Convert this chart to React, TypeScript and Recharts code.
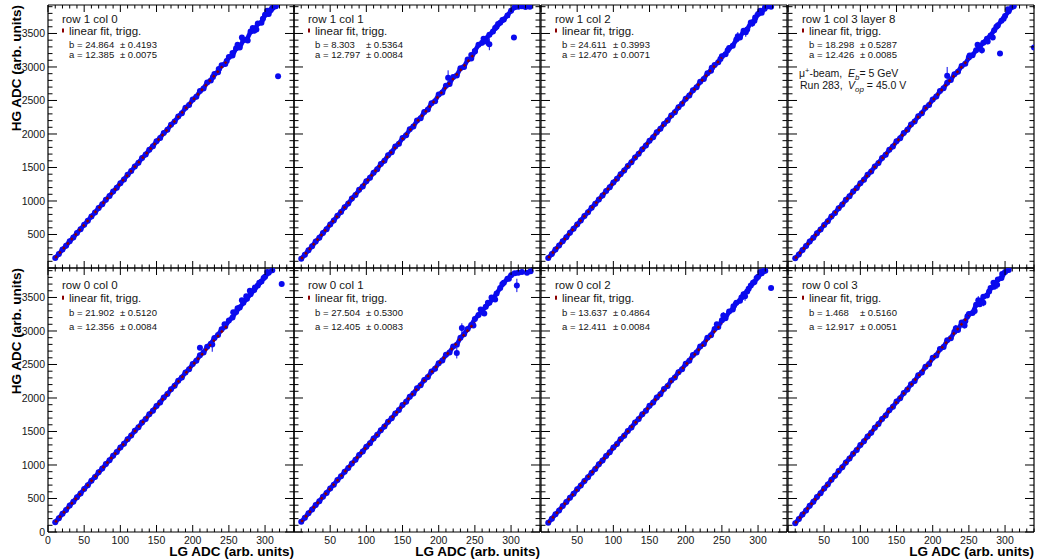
import { ComposedChart, Scatter, Line, XAxis, YAxis, ErrorBar } from 'recharts'

// LG ADC sample points (x) shared by the main traces
const LG = [
  10, 15, 20, 25, 30, 35, 40, 45, 50, 55, 60, 65, 70, 75, 80, 85, 90, 95, 100, 105,
  110, 115, 120, 125, 130, 135, 140, 145, 150, 155, 160, 165, 170, 175, 180, 185, 190, 195, 200, 205,
  210, 215, 220, 225, 230, 235, 240, 245, 250, 255, 260, 265, 270, 275, 280, 285, 290, 295, 300, 305,
  310, 315,
]

// HG ADC values per channel
const HG_R1C0 = [150, 208, 275, 333, 398, 456, 522, 580, 646, 704, 770, 828, 895, 951, 1019, 1075, 1142, 1198, 1266, 1322, 1390, 1446, 1515, 1570, 1640, 1694, 1764, 1818, 1890, 1941, 2015, 2062, 2138, 2186, 2262, 2310, 2390, 2432, 2515, 2556, 2640, 2680, 2770, 2800, 2895, 2922, 3025, 3045, 3150, 3170, 3280, 3290, 3400, 3410, 3530, 3540, 3650, 3660, 3780, 3790, 3880, 3905]
const HG_R1C1 = [138, 197, 266, 325, 395, 452, 523, 580, 651, 708, 780, 836, 908, 963, 1036, 1091, 1166, 1218, 1294, 1346, 1423, 1474, 1552, 1600, 1682, 1728, 1812, 1856, 1940, 1983, 2070, 2110, 2200, 2236, 2330, 2364, 2460, 2490, 2590, 2618, 2720, 2745, 2850, 2872, 2980, 3000, 3110, 3125, 3240, 3330, 3360, 3420, 3480, 3530, 3600, 3660, 3710, 3770, 3840, 3890]
const HG_R1C2 = [150, 210, 276, 334, 401, 459, 525, 584, 650, 708, 775, 833, 900, 958, 1024, 1083, 1150, 1206, 1275, 1331, 1399, 1456, 1524, 1580, 1650, 1704, 1774, 1829, 1900, 1952, 2025, 2077, 2150, 2202, 2276, 2326, 2400, 2450, 2526, 2575, 2652, 2698, 2778, 2822, 2905, 2945, 3030, 3070, 3160, 3190, 3285, 3315, 3410, 3440, 3540, 3560, 3665, 3690, 3790, 3810, 3895]
const HG_R1C3 = [144, 203, 269, 327, 394, 450, 518, 574, 643, 699, 768, 822, 893, 946, 1017, 1070, 1142, 1194, 1266, 1318, 1391, 1442, 1515, 1566, 1640, 1690, 1765, 1814, 1890, 1938, 2015, 2062, 2140, 2186, 2265, 2310, 2390, 2434, 2515, 2558, 2640, 2682, 2765, 2806, 2890, 2930, 3015, 3050, 3140, 3175, 3250, 3300, 3360, 3420, 3470, 3550, 3620, 3690, 3760, 3830, 3900]
const HG_R0C0 = [147, 205, 271, 329, 395, 452, 519, 576, 643, 699, 766, 822, 890, 946, 1014, 1069, 1138, 1193, 1262, 1316, 1386, 1440, 1510, 1563, 1634, 1686, 1758, 1810, 1882, 1934, 2006, 2058, 2130, 2182, 2256, 2306, 2382, 2430, 2508, 2556, 2636, 2680, 2765, 2808, 2895, 2940, 3025, 3068, 3155, 3200, 3285, 3350, 3420, 3480, 3550, 3610, 3680, 3740, 3810, 3870, 3905]
const HG_R0C1 = [153, 211, 279, 336, 403, 459, 527, 583, 651, 707, 775, 831, 900, 954, 1024, 1078, 1148, 1202, 1272, 1326, 1396, 1450, 1520, 1574, 1645, 1697, 1770, 1820, 1895, 1943, 2020, 2066, 2145, 2190, 2270, 2312, 2395, 2436, 2520, 2560, 2645, 2680, 2770, 2795, 2900, 2950, 3030, 3090, 3180, 3240, 3300, 3360, 3420, 3480, 3560, 3640, 3720, 3780, 3830, 3860, 3870]
const HG_R0C2 = [139, 198, 264, 322, 389, 446, 513, 570, 637, 694, 761, 818, 886, 941, 1010, 1066, 1135, 1190, 1260, 1314, 1384, 1438, 1509, 1561, 1633, 1685, 1758, 1808, 1883, 1932, 2008, 2056, 2134, 2180, 2260, 2305, 2386, 2430, 2512, 2555, 2640, 2680, 2770, 2805, 2900, 2935, 3030, 3060, 3160, 3190, 3290, 3320, 3420, 3450, 3550, 3590, 3680, 3730, 3810, 3860, 3900]
const HG_R0C3 = [132, 193, 262, 322, 391, 452, 521, 580, 650, 709, 780, 838, 909, 967, 1038, 1096, 1168, 1225, 1297, 1354, 1427, 1482, 1557, 1611, 1686, 1740, 1816, 1868, 1946, 1997, 2076, 2125, 2206, 2252, 2338, 2380, 2468, 2508, 2600, 2635, 2730, 2762, 2860, 2890, 2990, 3015, 3125, 3145, 3255, 3270, 3390, 3400, 3510, 3530, 3640, 3660, 3770, 3790, 3880, 3910]

// scattered high-gain points: [LG, HG, error]
const EXTRA_R1C0 = [[228, 2850, 0], [236, 2970, 0], [247, 3090, 0], [255, 3210, 0], [262, 3330, 0], [268, 3440, 0], [276, 3396, 0], [283, 3580, 0], [288, 3560, 0], [297, 3720, 0], [303, 3840, 0], [308, 3850, 0], [312, 3900, 0], [318, 2860, 0]]
const EXTRA_R1C1 = [[213, 2840, 110], [245, 3180, 0], [250, 3230, 0], [262, 3420, 0], [266, 3380, 60], [270, 3340, 90], [278, 3580, 0], [282, 3640, 0], [288, 3700, 0], [304, 3440, 0], [310, 3900, 0], [315, 3905, 0], [320, 3895, 0], [326, 3900, 0]]
const EXTRA_R1C2 = [[236, 2990, 0], [248, 3120, 0], [258, 3250, 40], [272, 3460, 60], [283, 3520, 70], [292, 3650, 50], [296, 3740, 60], [303, 3840, 0], [309, 3870, 0], [314, 3905, 0], [318, 3900, 0]]
const EXTRA_R1C3 = [[220, 2870, 130], [251, 3170, 0], [262, 3330, 0], [268, 3250, 50], [276, 3380, 40], [283, 3440, 0], [288, 3600, 60], [293, 3200, 0], [298, 3720, 0], [304, 3860, 0], [312, 3905, 0], [340, 3290, 0]]
const EXTRA_R0C0 = [[210, 2750, 0], [227, 2800, 110], [244, 3100, 0], [256, 3280, 0], [262, 3340, 0], [268, 3460, 0], [274, 3520, 0], [279, 3600, 0], [286, 3650, 0], [292, 3720, 0], [298, 3790, 0], [303, 3880, 0], [323, 3700, 0]]
const EXTRA_R0C1 = [[225, 2670, 80], [232, 3045, 70], [248, 3080, 0], [258, 3320, 0], [263, 3260, 0], [268, 3420, 0], [273, 3500, 0], [278, 3470, 0], [288, 3700, 60], [297, 3780, 0], [308, 3680, 100], [315, 3880, 0], [322, 3870, 0], [327, 3890, 0]]
const EXTRA_R0C2 = [[243, 3100, 0], [252, 3230, 50], [266, 3370, 60], [277, 3500, 50], [282, 3520, 70], [287, 3630, 0], [293, 3720, 0], [298, 3790, 0], [303, 3880, 0], [308, 3900, 0], [318, 3640, 0]]
const EXTRA_R0C3 = [[232, 3040, 50], [244, 3080, 40], [248, 3220, 0], [258, 3300, 50], [263, 3460, 60], [270, 3420, 50], [278, 3590, 0], [284, 3720, 0], [289, 3690, 60], [296, 3850, 0]]

// linear fit end points [LG, HG]
const FIT_R1C0 = [[10, 149], [250, 3121]]
const FIT_R1C1 = [[10, 136], [250, 3208]]
const FIT_R1C2 = [[10, 149], [250, 3142]]
const FIT_R1C3 = [[10, 143], [250, 3125]]
const FIT_R0C0 = [[10, 145], [250, 3111]]
const FIT_R0C1 = [[10, 152], [250, 3129]]
const FIT_R0C2 = [[10, 138], [250, 3116]]
const FIT_R0C3 = [[10, 131], [250, 3231]]

const TITLES = ['row 1 col 0', 'row 1 col 1', 'row 1 col 2', 'row 1 col 3 layer 8', 'row 0 col 0', 'row 0 col 1', 'row 0 col 2', 'row 0 col 3']
const B_VALS = ['24.864', '8.303', '24.611', '18.298', '21.902', '27.504', '13.637', '1.468']
const B_ERRS = ['0.4193', '0.5364', '0.3993', '0.5287', '0.5120', '0.5300', '0.4864', '0.5160']
const A_VALS = ['12.385', '12.797', '12.470', '12.426', '12.356', '12.405', '12.411', '12.917']
const A_ERRS = ['0.0075', '0.0084', '0.0071', '0.0085', '0.0084', '0.0083', '0.0084', '0.0051']

const HG_ALL = [HG_R1C0, HG_R1C1, HG_R1C2, HG_R1C3, HG_R0C0, HG_R0C1, HG_R0C2, HG_R0C3]
const EXTRA_ALL = [EXTRA_R1C0, EXTRA_R1C1, EXTRA_R1C2, EXTRA_R1C3, EXTRA_R0C0, EXTRA_R0C1, EXTRA_R0C2, EXTRA_R0C3]
const FIT_ALL = [FIT_R1C0, FIT_R1C1, FIT_R1C2, FIT_R1C3, FIT_R0C0, FIT_R0C1, FIT_R0C2, FIT_R0C3]

const X_TICKS = [0, 10, 20, 30, 40, 50, 60, 70, 80, 90, 100, 110, 120, 130, 140, 150, 160, 170, 180, 190, 200, 210, 220, 230, 240, 250, 260, 270, 280, 290, 300, 310, 320, 330, 340]
const Y_TICKS = [0, 100, 200, 300, 400, 500, 600, 700, 800, 900, 1000, 1100, 1200, 1300, 1400, 1500, 1600, 1700, 1800, 1900, 2000, 2100, 2200, 2300, 2400, 2500, 2600, 2700, 2800, 2900, 3000, 3100, 3200, 3300, 3400, 3500, 3600, 3700, 3800, 3900]

const FONT = "'Liberation Sans', Arial, Helvetica, sans-serif"
const BLUE = '#0a0aee'
const FIT_RED = '#8b0000'
const INK = '#151515'

const COL_X = [48, 294, 541, 788]
const ROW_Y = [5, 268]
const W = 246
const ROW_H = [263, 264]
const Y_MAX = [3925, 3940]
const ML = 50, MR = 6, MT = 6, MB = 30

function tickRenderer(side: string, labels: boolean, skipZero: boolean) {
  return (p: any) => {
    const v = p.payload.value
    const { x, y } = p
    if (side === 'bottom' || side === 'top') {
      const major = v % 50 === 0
      const len = major ? 7 : 3.5
      const dir = side === 'bottom' ? -1 : 1
      return (
        <g>
          <line x1={x} x2={x} y1={y} y2={y + dir * len} stroke="#000" strokeWidth={1} />
          {labels && major && v <= 300 && !(skipZero && v === 0) && (
            <text x={x} y={y + 11.5} textAnchor="middle" fontSize={10.5} fontFamily={FONT} fill={INK}>{v}</text>
          )}
        </g>
      )
    }
    const major = v % 500 === 0
    const len = major ? 9 : 4.5
    const dir = side === 'left' ? 1 : -1
    return (
      <g>
        <line x1={x} x2={x + dir * len} y1={y} y2={y} stroke="#000" strokeWidth={1} />
        {labels && major && !(skipZero && v === 0) && (
          <text x={x - 3} y={y + 3.8} textAnchor="end" fontSize={10.5} fontFamily={FONT} fill={INK}>{v}</text>
        )}
      </g>
    )
  }
}

function Panel({ idx }: { idx: number }) {
  const row = idx < 4 ? 0 : 1
  const col = idx % 4
  const H = ROW_H[row]
  const main = LG.map((x, i) => ({ x, y: HG_ALL[idx][i], e: 0 })).filter((d) => d.y !== undefined)
  const extra = EXTRA_ALL[idx].map(([x, y, e]) => ({ x, y, e }))
  const dot = (p: any) => <circle cx={p.cx} cy={p.cy} r={3} fill={BLUE} />
  const axisLine = { stroke: '#000', strokeWidth: 1.2 }
  // axes take 1px each, so margins are 1px smaller to keep the frame in place
  return (
    <div style={{ position: 'absolute', left: COL_X[col] - ML, top: ROW_Y[row] - MT }}>
      <ComposedChart width={W + ML + MR} height={H + MT + MB}
        margin={{ top: MT - 1, right: MR - 1, bottom: MB - 1, left: ML - 1 }}>
        <XAxis xAxisId="b" dataKey="x" type="number" domain={[0, 340]} allowDataOverflow ticks={X_TICKS} interval={0}
          height={1} tickSize={0} tickMargin={0} axisLine={axisLine} tickLine={false}
          tick={tickRenderer('bottom', row === 1, col !== 0)} />
        <XAxis xAxisId="t" orientation="top" dataKey="x" type="number" domain={[0, 340]} allowDataOverflow ticks={X_TICKS} interval={0}
          height={1} tickSize={0} tickMargin={0} axisLine={axisLine} tickLine={false}
          tick={tickRenderer('top', false, false)} />
        <YAxis yAxisId="l" dataKey="y" type="number" domain={[0, Y_MAX[row]]} allowDataOverflow ticks={Y_TICKS} interval={0}
          width={1} tickSize={0} tickMargin={0} axisLine={axisLine} tickLine={false}
          tick={tickRenderer('left', col === 0, row === 0)} />
        <YAxis yAxisId="r" orientation="right" dataKey="y" type="number" domain={[0, Y_MAX[row]]} allowDataOverflow ticks={Y_TICKS} interval={0}
          width={1} tickSize={0} tickMargin={0} axisLine={axisLine} tickLine={false}
          tick={tickRenderer('right', false, false)} />
        <Line xAxisId="b" yAxisId="l" data={main} dataKey="y" type="linear" dot={false} stroke={BLUE}
          strokeWidth={4.5} isAnimationActive={false} />
        <Scatter xAxisId="b" yAxisId="l" data={main} fill={BLUE} shape={dot} isAnimationActive={false} />
        <Scatter xAxisId="b" yAxisId="l" data={extra} fill={BLUE} shape={dot} isAnimationActive={false}>
          <ErrorBar dataKey="e" direction="y" width={0} stroke={BLUE} strokeWidth={1} />
        </Scatter>
      </ComposedChart>
    </div>
  )
}

// fit line in its own layer so it sits on top of the markers
function FitLayer({ idx }: { idx: number }) {
  const row = idx < 4 ? 0 : 1
  const col = idx % 4
  const H = ROW_H[row]
  const fit = FIT_ALL[idx].map(([x, y]) => ({ x, y }))
  return (
    <div style={{ position: 'absolute', left: COL_X[col] - ML, top: ROW_Y[row] - MT }}>
      <ComposedChart width={W + ML + MR} height={H + MT + MB} data={fit}
        margin={{ top: MT, right: MR, bottom: MB, left: ML }}>
        <XAxis dataKey="x" type="number" domain={[0, 340]} allowDataOverflow hide />
        <YAxis dataKey="y" type="number" domain={[0, Y_MAX[row]]} allowDataOverflow hide />
        <Line dataKey="y" type="linear" dot={false} stroke={FIT_RED} strokeWidth={2.4}
          strokeDasharray="2.5 3.5" isAnimationActive={false} />
      </ComposedChart>
    </div>
  )
}

function Overlay() {
  const legendRows = [
    { title: 18, fit: 29.5, b: 42.5, a: 52.5 },
    { title: 21, fit: 33.7, b: 47.7, a: 62 },
  ]
  return (
    <svg width={1038} height={560} style={{ position: 'absolute', left: 0, top: 0, pointerEvents: 'none' }} fontFamily={FONT}>
      {ROW_Y.map((ry, r) => (
        <text key={'yt' + r} x={21} y={ry} transform={`rotate(-90 21 ${ry})`} textAnchor="end"
          fontSize={13.5} fontWeight="bold" fill="#000">HG ADC (arb. units)</text>
      ))}
      {[0, 1, 3].map((c) => (
        <text key={'xt' + c} x={COL_X[c] + W} y={556} textAnchor="end" fontSize={13.5} fontWeight="bold" fill="#000">
          LG ADC (arb. units)
        </text>
      ))}
      {TITLES.map((t, i) => {
        const r = i < 4 ? 0 : 1
        const X = COL_X[i % 4]
        const Y = ROW_Y[r]
        const L = legendRows[r]
        return (
          <g key={t} fill={INK}>
            <text x={X + 14} y={Y + L.title} fontSize={11.5}>{t}</text>
            <rect x={X + 14} y={Y + L.fit - 6} width={2} height={4} fill={FIT_RED} />
            <text x={X + 21} y={Y + L.fit} fontSize={11.5}>linear fit, trigg.</text>
            <text x={X + 21} y={Y + L.b} fontSize={9.5}>b = {B_VALS[i]}</text>
            <text x={X + 72} y={Y + L.b} fontSize={9.5}>± {B_ERRS[i]}</text>
            <text x={X + 21} y={Y + L.a} fontSize={9.5}>a = {A_VALS[i]}</text>
            <text x={X + 72} y={Y + L.a} fontSize={9.5}>± {A_ERRS[i]}</text>
          </g>
        )
      })}
      <g fill={INK} fontSize={10.5}>
        <text x={COL_X[3] + 11} y={ROW_Y[0] + 72}>μ<tspan dy={-4} fontSize={7.5}>+</tspan><tspan dy={4}>-beam,</tspan></text>
        <text x={COL_X[3] + 60} y={ROW_Y[0] + 72}>
          <tspan fontStyle="italic">E</tspan><tspan dy={3} fontSize={8} fontStyle="italic">b</tspan><tspan dy={-3}>= 5 GeV</tspan>
        </text>
        <text x={COL_X[3] + 12} y={ROW_Y[0] + 84}>Run 283,</text>
        <text x={COL_X[3] + 60} y={ROW_Y[0] + 84}>
          <tspan fontStyle="italic">V</tspan><tspan dy={3} fontSize={8} fontStyle="italic">op</tspan><tspan dy={-3}> = 45.0 V</tspan>
        </text>
      </g>
    </svg>
  )
}

export default function App() {
  return (
    <div style={{ position: 'absolute', left: 0, top: 0, width: 1038, height: 560, background: '#fff' }}>
      {[0, 1, 2, 3, 4, 5, 6, 7].map((i) => <Panel key={i} idx={i} />)}
      {[0, 1, 2, 3, 4, 5, 6, 7].map((i) => <FitLayer key={'f' + i} idx={i} />)}
      <Overlay />
    </div>
  )
}
